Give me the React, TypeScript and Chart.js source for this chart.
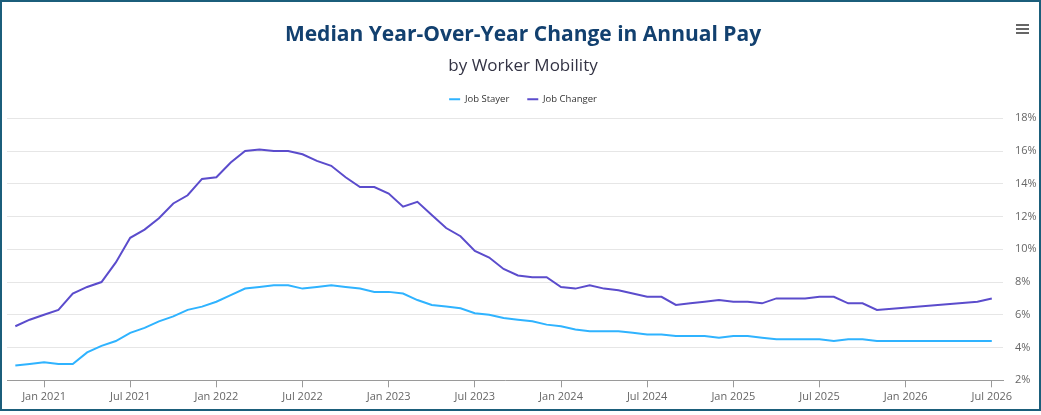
import React, { useEffect, useRef } from "react";
import { Chart, registerables } from "chart.js";

Chart.register(...registerables);

const months: string[] = [
  "Nov 2020", "Dec 2020",
  "Jan 2021", "Feb 2021", "Mar 2021", "Apr 2021", "May 2021", "Jun 2021", "Jul 2021", "Aug 2021", "Sep 2021", "Oct 2021", "Nov 2021", "Dec 2021",
  "Jan 2022", "Feb 2022", "Mar 2022", "Apr 2022", "May 2022", "Jun 2022", "Jul 2022", "Aug 2022", "Sep 2022", "Oct 2022", "Nov 2022", "Dec 2022",
  "Jan 2023", "Feb 2023", "Mar 2023", "Apr 2023", "May 2023", "Jun 2023", "Jul 2023", "Aug 2023", "Sep 2023", "Oct 2023", "Nov 2023", "Dec 2023",
  "Jan 2024", "Feb 2024", "Mar 2024", "Apr 2024", "May 2024", "Jun 2024", "Jul 2024", "Aug 2024", "Sep 2024", "Oct 2024", "Nov 2024", "Dec 2024",
  "Jan 2025", "Feb 2025", "Mar 2025", "Apr 2025", "May 2025", "Jun 2025", "Jul 2025", "Aug 2025", "Sep 2025", "Oct 2025", "Nov 2025", "Dec 2025",
  "Jan 2026", "Feb 2026", "Mar 2026", "Apr 2026", "May 2026", "Jun 2026", "Jul 2026",
];

const jobStayer: (number | null)[] = [
  2.9, 3.0,
  3.1, 3.0, 3.0, 3.7, 4.1, 4.4, 4.9, 5.2, 5.6, 5.9, 6.3, 6.5,
  6.8, 7.2, 7.6, 7.7, 7.8, 7.8, 7.6, 7.7, 7.8, 7.7, 7.6, 7.4,
  7.4, 7.3, 6.9, 6.6, 6.5, 6.4, 6.1, 6.0, 5.8, 5.7, 5.6, 5.4,
  5.3, 5.1, 5.0, 5.0, 5.0, 4.9, 4.8, 4.8, 4.7, 4.7, 4.7, 4.6,
  4.7, 4.7, 4.6, 4.5, 4.5, 4.5, 4.5, 4.4, 4.5, 4.5, 4.4, null,
  null, null, null, null, null, 4.4, 4.4,
];

const jobChanger: (number | null)[] = [
  5.3, 5.7,
  6.0, 6.3, 7.3, 7.7, 8.0, 9.2, 10.7, 11.2, 11.9, 12.8, 13.3, 14.3,
  14.4, 15.3, 16.0, 16.1, 16.0, 16.0, 15.8, 15.4, 15.1, 14.4, 13.8, 13.8,
  13.4, 12.6, 12.9, 12.1, 11.3, 10.8, 9.9, 9.5, 8.8, 8.4, 8.3, 8.3,
  7.7, 7.6, 7.8, 7.6, 7.5, 7.3, 7.1, 7.1, 6.6, 6.7, 6.8, 6.9,
  6.8, 6.8, 6.7, 7.0, 7.0, 7.0, 7.1, 7.1, 6.7, 6.7, 6.3, null,
  null, null, null, null, null, 6.8, 7.0,
];

const yTicks: number[] = [2, 4, 6, 8, 10, 12, 14, 16, 18];

const FONT = "'Open Sans', 'Noto Sans', sans-serif";

// Adds a little space between the legend row and the plot area.
const legendGapPlugin = {
  id: "legendGap",
  afterInit(chart: any) {
    const lg = chart.legend;
    if (lg && !lg.__gapPatched) {
      const orig = lg.fit.bind(lg);
      lg.fit = () => {
        orig();
        lg.height += 4.3;
      };
      lg.__gapPatched = true;
    }
  },
};

export default function App() {
  const canvasRef = useRef<HTMLCanvasElement | null>(null);

  useEffect(() => {
    document.body.style.margin = "0";
    const canvas = canvasRef.current;
    if (!canvas) return;

    const tickIdx = months
      .map((m, i) => (m.startsWith("Jan") || m.startsWith("Jul") ? i : -1))
      .filter((i) => i >= 0);

    const toPoints = (arr: (number | null)[]) =>
      arr.map((v, i) => ({ x: i, y: v }));

    const chart = new Chart(canvas, {
      type: "line",
      plugins: [legendGapPlugin],
      data: {
        datasets: [
          {
            label: "Job Stayer",
            data: toPoints(jobStayer) as any,
            borderColor: "#2fb3ff",
            backgroundColor: "#2fb3ff",
            borderWidth: 2,
            pointRadius: 0,
            tension: 0,
            spanGaps: true,
          },
          {
            label: "Job Changer",
            data: toPoints(jobChanger) as any,
            borderColor: "#5b4ccc",
            backgroundColor: "#5b4ccc",
            borderWidth: 2,
            pointRadius: 0,
            tension: 0,
            spanGaps: true,
          },
        ],
      },
      options: {
        animation: false,
        responsive: false,
        maintainAspectRatio: false,
        layout: { padding: { left: 5, right: 0, top: 0, bottom: 2.5 } },
        plugins: {
          title: {
            display: true,
            text: "Median Year-Over-Year Change in Annual Pay",
            color: "#12406f",
            font: { family: FONT, size: 21, weight: "bold" },
            padding: { top: 20.5, bottom: 8.3 },
          },
          subtitle: {
            display: true,
            text: "by Worker Mobility",
            color: "#333344",
            font: { family: FONT, size: 17 },
            padding: { top: 0, bottom: 0.1 },
          },
          legend: {
            display: true,
            position: "top",
            labels: {
              usePointStyle: true,
              pointStyle: "line",
              pointStyleWidth: 11,
              color: "#333333",
              font: { family: FONT, size: 9.5 },
              padding: 18,
            },
          },
          tooltip: { enabled: true },
        },
        scales: {
          x: {
            type: "linear",
            min: -0.58,
            max: 68.78,
            afterBuildTicks: (scale: any) => {
              scale.ticks = tickIdx.map((v) => ({ value: v }));
            },
            ticks: {
              autoSkip: false,
              maxRotation: 0,
              color: "#666666",
              font: { family: FONT, size: 11 },
              padding: 3,
              callback: (v: any) => months[Number(v)] ?? "",
            },
            grid: {
              drawOnChartArea: false,
              drawTicks: true,
              tickLength: 7,
              color: "#9a9a9a",
            },
            border: { display: true, color: "#9a9a9a" },
          },
          y: {
            position: "right",
            min: 2,
            max: 18,
            afterBuildTicks: (scale: any) => {
              scale.ticks = yTicks.map((v) => ({ value: v }));
            },
            afterFit: (scale: any) => {
              scale.width = 36;
            },
            ticks: {
              color: "#666666",
              font: { family: FONT, size: 11 },
              padding: 12,
              callback: (v: any) => `${v}%`,
            },
            grid: { color: "#e6e6e6", drawTicks: false },
            border: { display: false },
          },
        },
      },
    });

    return () => chart.destroy();
  }, []);

  const bar: React.CSSProperties = {
    position: "absolute",
    left: 1014,
    width: 13,
    height: 2,
    background: "#666666",
  };

  return (
    <div
      style={{
        position: "relative",
        width: 1041,
        height: 411,
        boxSizing: "border-box",
        border: "2px solid #1b5e7b",
        background: "#ffffff",
        overflow: "hidden",
      }}
    >
      <canvas ref={canvasRef} width={1037} height={407} style={{ display: "block" }} />
      <div style={{ ...bar, top: 22 }} />
      <div style={{ ...bar, top: 26 }} />
      <div style={{ ...bar, top: 30 }} />
    </div>
  );
}
